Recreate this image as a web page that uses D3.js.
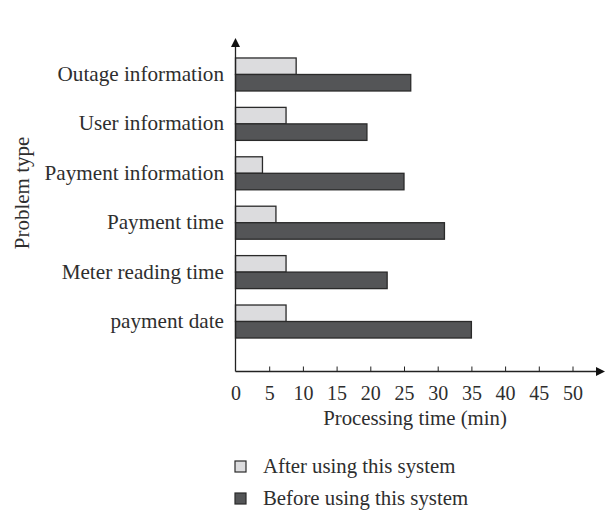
<!DOCTYPE html>
<html><head><meta charset="utf-8">
<script src="https://cdn.jsdelivr.net/npm/d3@7/dist/d3.min.js"></script>
<style>body{margin:0;background:#fff}text{font-family:"Liberation Serif","Times New Roman",serif;fill:#2e2e2e}</style>
</head><body><svg id="c" width="605" height="513"></svg>
<script>
const categories = ["Outage information","User information","Payment information","Payment time","Meter reading time","payment date"];
const afterValues = [9, 7.5, 4, 6, 7.5, 7.5];
const beforeValues = [26, 19.5, 25, 31, 22.5, 35];
const seriesNames = ["After using this system","Before using this system"];
const xTicks = [0,5,10,15,20,25,30,35,40,45,50];

const svg = d3.select("#c");
const x0 = 235.5, axisY = 371.5;
const x = d3.scaleLinear().domain([0, 50]).range([x0, 572.5]);
const y = d3.scaleBand().domain(categories).range([48.1, 347.9]).paddingInner(0.332).paddingOuter(0.2);
const sub = d3.scaleBand().domain(seriesNames).range([0, y.bandwidth()]);
const fills = ["#dcdcde", "#545557"];

const data = categories.map((c,i)=>({c, vals:[afterValues[i], beforeValues[i]]}));
const g = svg.append("g");
data.forEach(d=>{
  d.vals.forEach((v,j)=>{
    g.append("rect")
      .attr("x", x(0)).attr("y", y(d.c)+sub(seriesNames[j]))
      .attr("width", x(v)-x(0)).attr("height", sub.bandwidth())
      .attr("fill", fills[j]).attr("stroke", "#2a2a2a").attr("stroke-width", 1.3);
  });
});

// x axis
const xAxis = d3.axisBottom(x).tickValues(xTicks).tickSize(-5).tickPadding(14).tickFormat(d3.format("d"));
const ax = svg.append("g").attr("transform", `translate(0,${axisY})`).call(xAxis);
ax.select(".domain").remove();
ax.selectAll(".tick line").attr("stroke","#222").attr("stroke-width",1).filter(d=>d===0).remove();
ax.selectAll(".tick text").attr("font-size", 20).attr("font-family","Liberation Serif").attr("fill","#2e2e2e");
svg.append("line").attr("x1", x0).attr("x2", 598).attr("y1", axisY).attr("y2", axisY).attr("stroke","#222").attr("stroke-width",1.3);
svg.append("path").attr("d", `M605,${axisY} L596,${axisY-4.5} L596,${axisY+4.5} Z`).attr("fill","#111");

// y axis
svg.append("line").attr("x1", x0).attr("x2", x0).attr("y1", 46).attr("y2", axisY).attr("stroke","#222").attr("stroke-width",1.3);
svg.append("path").attr("d", `M${x0},38 L${x0-4.5},47 L${x0+4.5},47 Z`).attr("fill","#111");

// category labels
svg.append("g").selectAll("text").data(categories).join("text")
  .attr("x", 224).attr("y", d=>y(d)+y.bandwidth()/2-1).attr("dy","0.35em")
  .attr("text-anchor","end").attr("font-size", 21.2).text(d=>d);

// axis titles
svg.append("text").attr("x", 415).attr("y", 425).attr("text-anchor","middle").attr("font-size",20.8).text("Processing time (min)");
svg.append("text").attr("transform","translate(29,193) rotate(-90)").attr("text-anchor","middle").attr("font-size",21).text("Problem type");

// legend
const leg = svg.append("g").selectAll("g").data(seriesNames).join("g")
  .attr("transform",(d,i)=>`translate(235,${461+i*32})`);
leg.append("rect").attr("width",11).attr("height",11).attr("fill",(d,i)=>fills[i]).attr("stroke","#2a2a2a").attr("stroke-width",1.2);
leg.append("text").attr("x",28).attr("y",12).attr("font-size",20.8).text(d=>d);
</script></body></html>
